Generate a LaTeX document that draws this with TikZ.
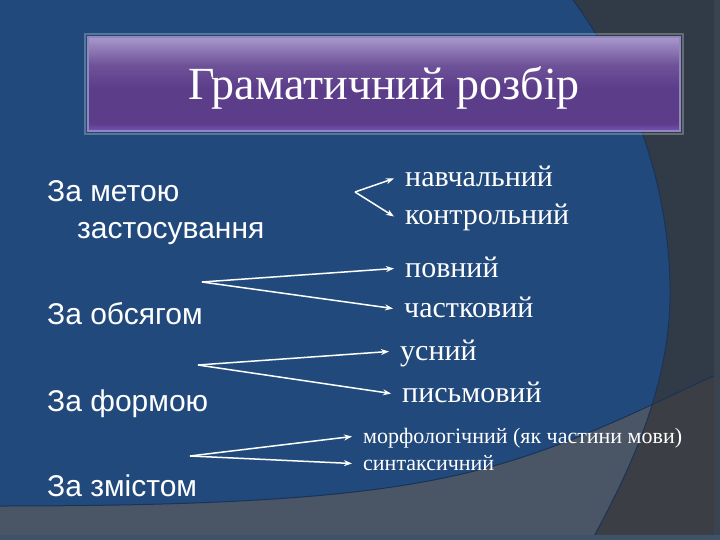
\documentclass[tikz,border=0pt]{standalone}
\usepackage{fontspec}
\setmainfont{Liberation Serif}
\newfontfamily\arialfont{Liberation Sans}
\usetikzlibrary{arrows.meta}

\definecolor{slideblue}{HTML}{21497C}
\definecolor{framegray}{HTML}{313B47}
\definecolor{lowgray}{HTML}{3B3E44}
\definecolor{bandgray}{HTML}{4A5665}
\definecolor{edgeblue}{HTML}{1A3358}
\definecolor{stripgray}{HTML}{3A4450}
\definecolor{stripblue}{HTML}{3E526A}
\definecolor{boxtop}{HTML}{A898CC}
\definecolor{boxmid}{HTML}{6E5298}
\definecolor{boxdark}{HTML}{5C3D8A}
\definecolor{boxlow}{HTML}{7A52B8}
\definecolor{boxedge}{HTML}{9088BC}

\pgfdeclareverticalshading{titleshade}{100bp}{color(0bp)=(boxlow); color(25bp)=(boxlow); color(29bp)=(boxdark); color(48bp)=(boxdark); color(60bp)=(boxmid); color(75bp)=(boxtop); color(100bp)=(boxtop)}

\tikzset{
  titlebox/.style={draw=boxedge, line width=1.5pt, shading=titleshade,
    minimum width=592pt, minimum height=94pt, inner sep=0pt,
    text=white, font=\fontsize{46}{52}\selectfont, text height=31pt, text depth=0pt},
  crit/.style={anchor=base west, inner sep=0pt, text=white,
    font=\arialfont\fontsize{30}{36}\selectfont},
  kind/.style={anchor=base west, inner xsep=11pt, inner ysep=0pt, text=white,
    text height=17pt, text depth=0pt, font=\fontsize{30}{36}\selectfont},
  smallkind/.style={kind, text height=13pt, font=\fontsize{22}{26}\selectfont},
  arr/.style={->, draw=white, line width=1.5pt}
}

\begin{document}
\begin{tikzpicture}[x=1pt, y=-1pt, >={Stealth[length=8pt,width=6pt]}]
        \useasboundingbox (0,0) rectangle (720,540);

        % background
        \fill[framegray] (0,0) rectangle (720,540);
        \fill[lowgray] (0,506) .. controls (300,506) and (420,490) .. (520,458)
            .. controls (600,432) and (660,400) .. (720,373) -- (720,540) -- (0,540) -- cycle;
        \begin{scope}
            \clip (0,0) -- (573,0) .. controls (625,70) and (672,180) .. (670,300)
                .. controls (668,390) and (630,470) .. (592,540) -- (0,540) -- cycle;
            \fill[bandgray] (0,0) rectangle (720,540);
            \fill[slideblue] (0,0) -- (720,0) -- (720,373) .. controls (660,400) and (600,432) .. (520,458)
                .. controls (420,490) and (300,506) .. (0,506) -- cycle;
        \end{scope}
        \draw[edgeblue, line width=1pt] (573,0) .. controls (625,70) and (672,180) .. (670,300)
            .. controls (668,390) and (630,470) .. (592,540);
        \draw[edgeblue, line width=1pt] (0,506) .. controls (300,506) and (420,490) .. (520,458)
            .. controls (600,432) and (660,400) .. (720,373);
        \fill[stripgray] (714,0) rectangle (720,540);
        \fill[stripblue] (0,535) rectangle (720,540);

        % title
        \node (title) [titlebox] at (384,84) {Граматичний розбір};
        \draw[white, opacity=0.25, line width=2pt] ([shift={(-2pt,2pt)}]title.north west) rectangle ([shift={(2pt,-2pt)}]title.south east);

        % criteria
        \node (goal) [crit] at (47,202) {За метою};
        \node (goalb) [crit] at (77,238) {застосування};
        \node (volume) [crit] at (47,324) {За обсягом};
        \node (form) [crit] at (47,411) {За формою};
        \node (content) [crit] at (47,496) {За змістом};

        % kinds
        \node (learn) [kind] at (394,187) {навчальний};
        \node (control) [kind] at (394,225) {контрольний};
        \node (full) [kind] at (394,277) {повний};
        \node (part) [kind] at (393,317) {частковий};
        \node (oral) [kind] at (389,360) {усний};
        \node (written) [kind] at (391,402) {письмовий};
        \node (morph) [smallkind] at (352,443) {морфологічний (як частини мови)};
        \node (syntax) [smallkind] at (352,470) {синтаксичний};

        % edges
        \coordinate (v1) at (355,192);
        \coordinate (v2) at (202,282);
        \coordinate (v3) at (198,365);
        \coordinate (v4) at (190,456);
        \draw[arr] (v1) -- (learn.west);
        \draw[arr] (v1) -- (control.west);
        \draw[arr] (v2) -- (full.west);
        \draw[arr] (v2) -- (part.west);
        \draw[arr] (v3) -- (oral.west);
        \draw[arr] (v3) -- (written.west);
        \draw[arr] (v4) -- (morph.west);
        \draw[arr] (v4) -- (syntax.west);
\end{tikzpicture}
\end{document}
